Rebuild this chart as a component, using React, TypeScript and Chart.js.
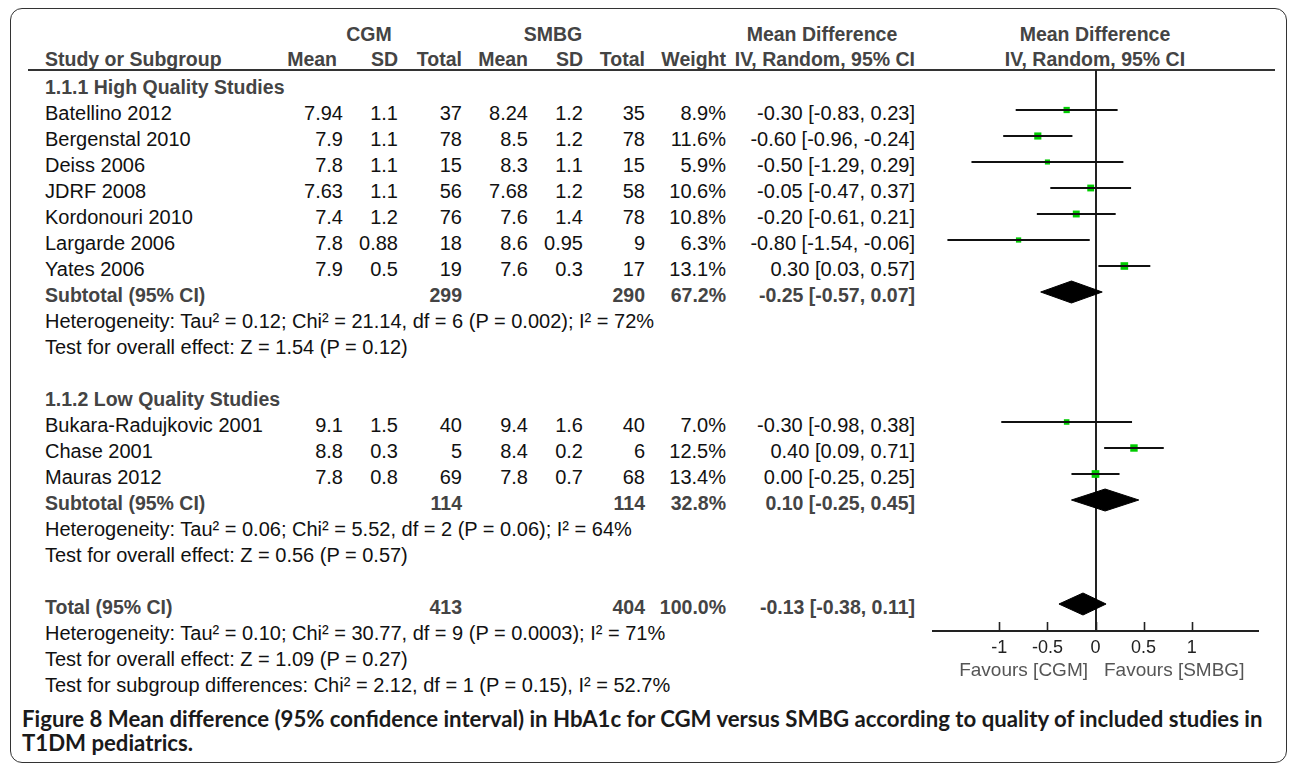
import React, { useEffect, useRef } from "react";
import { Chart, registerables } from "chart.js";

Chart.register(...registerables);

// ---------------- DATA ----------------
const studies = [
  "Batellino 2012",
  "Bergenstal 2010",
  "Deiss 2006",
  "JDRF 2008",
  "Kordonouri 2010",
  "Largarde 2006",
  "Yates 2006",
  "Bukara-Radujkovic 2001",
  "Chase 2001",
  "Mauras 2012",
];
const studyGroup = [0, 0, 0, 0, 0, 0, 0, 1, 1, 1];
const cgmMean = [7.94, 7.9, 7.8, 7.63, 7.4, 7.8, 7.9, 9.1, 8.8, 7.8];
const cgmSD = [1.1, 1.1, 1.1, 1.1, 1.2, 0.88, 0.5, 1.5, 0.3, 0.8];
const cgmN = [37, 78, 15, 56, 76, 18, 19, 40, 5, 69];
const smbgMean = [8.24, 8.5, 8.3, 7.68, 7.6, 8.6, 7.6, 9.4, 8.4, 7.8];
const smbgSD = [1.2, 1.2, 1.1, 1.2, 1.4, 0.95, 0.3, 1.6, 0.2, 0.7];
const smbgN = [35, 78, 15, 58, 78, 9, 17, 40, 6, 68];
const weight = [8.9, 11.6, 5.9, 10.6, 10.8, 6.3, 13.1, 7.0, 12.5, 13.4];
const meanDiff = [-0.3, -0.6, -0.5, -0.05, -0.2, -0.8, 0.3, -0.3, 0.4, 0.0];
const ciLow = [-0.83, -0.96, -1.29, -0.47, -0.61, -1.54, 0.03, -0.98, 0.09, -0.25];
const ciHigh = [0.23, -0.24, 0.29, 0.37, 0.21, -0.06, 0.57, 0.38, 0.71, 0.25];

const groupNames = ["1.1.1 High Quality Studies", "1.1.2 Low Quality Studies"];
const groupCgmN = [299, 114];
const groupSmbgN = [290, 114];
const groupWeight = [67.2, 32.8];
const groupMd = [-0.25, 0.1];
const groupLow = [-0.57, -0.25];
const groupHigh = [0.07, 0.45];
const groupHet = [
  "Heterogeneity: Tau² = 0.12; Chi² = 21.14, df = 6 (P = 0.002); I² = 72%",
  "Heterogeneity: Tau² = 0.06; Chi² = 5.52, df = 2 (P = 0.06); I² = 64%",
];
const groupTest = [
  "Test for overall effect: Z = 1.54 (P = 0.12)",
  "Test for overall effect: Z = 0.56 (P = 0.57)",
];

const totalCgmN = 413;
const totalSmbgN = 404;
const totalWeight = 100.0;
const totalMd = -0.13;
const totalLow = -0.38;
const totalHigh = 0.11;
const totalNotes = [
  "Heterogeneity: Tau² = 0.10; Chi² = 30.77, df = 9 (P = 0.0003); I² = 71%",
  "Test for overall effect: Z = 1.09 (P = 0.27)",
  "Test for subgroup differences: Chi² = 2.12, df = 1 (P = 0.15), I² = 52.7%",
];

const xTicks = [-1, -0.5, 0, 0.5, 1];
const xTickLabels = ["-1", "-0.5", "0", "0.5", "1"];
const favourLabels = ["Favours [CGM]", "Favours [SMBG]"];

const captionLine1 =
  "Figure 8 Mean difference (95% confidence interval) in HbA1c for CGM versus SMBG according to quality of included studies in";
const captionLine2 = "T1DM pediatrics.";

// ---------------- LAYOUT ----------------
const W = 1292;
const H = 767;
const ROW0 = 84;
const ROW_H = 26;
const TEXT_DY = 3;
const HEADER_LINE_Y = 70;
const AXIS_Y = 631;
const PLOT_LEFT = 933;
const PLOT_RIGHT = 1258;
const X_MIN = -1.69;
const X_MAX = 1.69;
const CANVAS_L = 920;
const CANVAS_T = 60;
const CANVAS_W = 360;
const CANVAS_H = 640;
const AXIS_H = 30;
const CAPTION_WIDTH = 1241;

const FONT = '"Liberation Sans", Arial, Helvetica, sans-serif';

type Row =
  | { kind: "group"; g: number }
  | { kind: "study"; s: number }
  | { kind: "subtotal"; g: number }
  | { kind: "note"; text: string }
  | { kind: "blank" }
  | { kind: "total" };

function buildRows(): Row[] {
  const rows: Row[] = [];
  groupNames.forEach((_, g) => {
    rows.push({ kind: "group", g });
    studies.forEach((_, s) => {
      if (studyGroup[s] === g) rows.push({ kind: "study", s });
    });
    rows.push({ kind: "subtotal", g });
    rows.push({ kind: "note", text: groupHet[g] });
    rows.push({ kind: "note", text: groupTest[g] });
    rows.push({ kind: "blank" });
  });
  rows.push({ kind: "total" });
  totalNotes.forEach((t) => rows.push({ kind: "note", text: t }));
  return rows;
}
const rows = buildRows();

const fmt2 = (v: number) => v.toFixed(2);
const ciText = (m: number, l: number, h: number) => `${fmt2(m)} [${fmt2(l)}, ${fmt2(h)}]`;
const pct = (w: number) => `${w.toFixed(1)}%`;

type TProps = {
  x: number;
  y: number;
  text: string;
  align?: "left" | "right" | "center";
  bold?: boolean;
  color?: string;
  size?: number;
};
function T({ x, y, text, align = "left", bold = false, color, size }: TProps) {
  const style: React.CSSProperties = {
    position: "absolute",
    top: y,
    whiteSpace: "pre",
    fontFamily: FONT,
    fontSize: size ?? (bold ? 19.5 : 20),
    fontWeight: bold ? 700 : 400,
    color: color ?? (bold ? "#444" : "#111"),
    lineHeight: "normal",
    transform: "translateY(-50%)",
  };
  if (align === "left") style.left = x;
  else if (align === "right") style.right = W - x;
  else {
    style.left = x;
    style.transform = "translate(-50%, -50%)";
  }
  return <div style={style}>{text}</div>;
}

// column right edges
const COL = {
  name: 45,
  cgmMean: 343,
  cgmSD: 398,
  cgmN: 462,
  smbgMean: 528,
  smbgSD: 583,
  smbgN: 645,
  weight: 726,
  ci: 915,
};

export default function App() {
  const canvasRef = useRef<HTMLCanvasElement>(null);
  const cap1 = useRef<HTMLDivElement>(null);
  const cap2 = useRef<HTMLDivElement>(null);

  useEffect(() => {
    const el = cap1.current;
    if (el && cap2.current) {
      el.style.fontSize = "20px";
      const w = el.getBoundingClientRect().width;
      const fs = (20 * CAPTION_WIDTH) / w;
      el.style.fontSize = fs + "px";
      cap2.current.style.fontSize = fs + "px";
    }
  }, []);

  useEffect(() => {
    const canvas = canvasRef.current;
    if (!canvas) return;

    const rowIndexOfStudy = (s: number) => rows.findIndex((r) => r.kind === "study" && r.s === s);
    const rowIndexOfSub = (g: number) => rows.findIndex((r) => r.kind === "subtotal" && r.g === g);
    const rowIndexOfTotal = rows.findIndex((r) => r.kind === "total");

    const DIAMOND_HALF = 11 / ROW_H;

    const datasets: any[] = [];
    // CI whiskers
    studies.forEach((_, s) => {
      const r = rowIndexOfStudy(s);
      datasets.push({
        type: "line",
        data: [
          { x: ciLow[s], y: r },
          { x: ciHigh[s], y: r },
        ],
        borderColor: "#111",
        borderWidth: 1.8,
        pointRadius: 0,
        fill: false,
      });
    });
    // squares (size grows with weight)
    datasets.push({
      type: "scatter",
      data: studies.map((_, s) => ({ x: meanDiff[s], y: rowIndexOfStudy(s) })),
      pointStyle: "rect",
      pointRadius: weight.map((w) => (2.1 * Math.sqrt(w)) / Math.SQRT2),
      backgroundColor: "#00cc00",
      borderColor: "#00cc00",
      borderWidth: 0,
    });
    // diamonds
    const diamond = (m: number, l: number, h: number, r: number) => ({
      type: "line",
      data: [
        { x: l, y: r },
        { x: m, y: r - DIAMOND_HALF },
        { x: h, y: r },
        { x: m, y: r + DIAMOND_HALF },
        { x: l, y: r },
      ],
      borderColor: "#000",
      backgroundColor: "#000",
      borderWidth: 1,
      pointRadius: 0,
      tension: 0,
      fill: "shape",
    });
    groupNames.forEach((_, g) => {
      datasets.push(diamond(groupMd[g], groupLow[g], groupHigh[g], rowIndexOfSub(g)));
    });
    datasets.push(diamond(totalMd, totalLow, totalHigh, rowIndexOfTotal));

    const yMin = (HEADER_LINE_Y - ROW0) / ROW_H;
    const yMax = (AXIS_Y - ROW0) / ROW_H;

    const tickMarks = {
      id: "tickMarks",
      afterDraw(chart: any) {
        const s = chart.scales.x;
        const ctx = chart.ctx;
        ctx.save();
        ctx.strokeStyle = "#222";
        ctx.lineWidth = 1.6;
        xTicks.forEach((v) => {
          const px = Math.round(s.getPixelForValue(v)) + 0.5;
          ctx.beginPath();
          ctx.moveTo(px, s.top);
          ctx.lineTo(px, s.top - 9);
          ctx.stroke();
        });
        ctx.restore();
      },
    };

    const chart = new Chart(canvas, {
      type: "scatter",
      data: { datasets },
      options: {
        animation: false,
        responsive: false,
        maintainAspectRatio: false,
        layout: {
          padding: {
            left: PLOT_LEFT - CANVAS_L,
            right: CANVAS_L + CANVAS_W - PLOT_RIGHT,
            top: HEADER_LINE_Y - CANVAS_T,
            bottom: CANVAS_T + CANVAS_H - AXIS_Y - AXIS_H,
          },
        },
        plugins: {
          legend: { display: false },
          tooltip: { enabled: false },
        },
        scales: {
          x: {
            type: "linear",
            position: "bottom",
            min: X_MIN,
            max: X_MAX,
            afterBuildTicks: (s: any) => {
              s.ticks = xTicks.map((v) => ({ value: v }));
            },
            afterFit: (s: any) => {
              s.height = AXIS_H;
            },
            ticks: {
              autoSkip: false,
              maxRotation: 0,
              padding: 6,
              color: "#222",
              font: { family: FONT, size: 18 },
              callback: (_v: any, i: number) => xTickLabels[i],
            },
            grid: {
              drawTicks: false,
              lineWidth: 2,
              color: (ctx: any) => (ctx.tick && ctx.tick.value === 0 ? "#222" : "rgba(0,0,0,0)"),
            },
            border: { display: true, color: "#222", width: 2 },
          },
          y: {
            type: "linear",
            display: false,
            reverse: true,
            min: yMin,
            max: yMax,
          },
        },
      } as any,
      plugins: [tickMarks],
    });
    return () => chart.destroy();
  }, []);

  const items: React.ReactNode[] = [];
  rows.forEach((r, i) => {
    const y = ROW0 + i * ROW_H + TEXT_DY;
    if (r.kind === "group") {
      items.push(<T key={`g${i}`} x={COL.name} y={y} text={groupNames[r.g]} bold />);
    } else if (r.kind === "study") {
      const s = r.s;
      items.push(<T key={`n${i}`} x={COL.name} y={y} text={studies[s]} />);
      items.push(<T key={`a${i}`} x={COL.cgmMean} y={y} text={String(cgmMean[s])} align="right" />);
      items.push(<T key={`b${i}`} x={COL.cgmSD} y={y} text={String(cgmSD[s])} align="right" />);
      items.push(<T key={`c${i}`} x={COL.cgmN} y={y} text={String(cgmN[s])} align="right" />);
      items.push(<T key={`d${i}`} x={COL.smbgMean} y={y} text={String(smbgMean[s])} align="right" />);
      items.push(<T key={`e${i}`} x={COL.smbgSD} y={y} text={String(smbgSD[s])} align="right" />);
      items.push(<T key={`f${i}`} x={COL.smbgN} y={y} text={String(smbgN[s])} align="right" />);
      items.push(<T key={`w${i}`} x={COL.weight} y={y} text={pct(weight[s])} align="right" />);
      items.push(
        <T key={`m${i}`} x={COL.ci} y={y} text={ciText(meanDiff[s], ciLow[s], ciHigh[s])} align="right" />
      );
    } else if (r.kind === "subtotal" || r.kind === "total") {
      const isT = r.kind === "total";
      const g = isT ? 0 : (r as any).g;
      items.push(<T key={`n${i}`} x={COL.name} y={y} text={isT ? "Total (95% CI)" : "Subtotal (95% CI)"} bold />);
      items.push(<T key={`c${i}`} x={COL.cgmN} y={y} text={String(isT ? totalCgmN : groupCgmN[g])} align="right" bold />);
      items.push(<T key={`f${i}`} x={COL.smbgN} y={y} text={String(isT ? totalSmbgN : groupSmbgN[g])} align="right" bold />);
      items.push(<T key={`w${i}`} x={COL.weight} y={y} text={pct(isT ? totalWeight : groupWeight[g])} align="right" bold />);
      items.push(
        <T
          key={`m${i}`}
          x={COL.ci}
          y={y}
          text={isT ? ciText(totalMd, totalLow, totalHigh) : ciText(groupMd[g], groupLow[g], groupHigh[g])}
          align="right"
          bold
        />
      );
    } else if (r.kind === "note") {
      items.push(<T key={`t${i}`} x={COL.name} y={y} text={r.text} />);
    }
  });

  return (
    <div style={{ position: "relative", width: W, height: H, background: "#fff", overflow: "hidden" }}>
      <style>{"body{margin:0;background:#fff}"}</style>
      <div
        style={{
          position: "absolute",
          left: 10,
          top: 8,
          width: 1277,
          height: 755,
          border: "1.5px solid #333",
          borderRadius: 12,
          boxSizing: "border-box",
        }}
      />
      {/* column headers */}
      <T x={369} y={33.5} text="CGM" align="center" bold />
      <T x={553} y={33.5} text="SMBG" align="center" bold />
      <T x={822} y={33.5} text="Mean Difference" align="center" bold />
      <T x={1095} y={33.5} text="Mean Difference" align="center" bold />
      <T x={COL.name} y={58.5} text="Study or Subgroup" bold />
      <T x={337} y={58.5} text="Mean" align="right" bold />
      <T x={COL.cgmSD} y={58.5} text="SD" align="right" bold />
      <T x={COL.cgmN} y={58.5} text="Total" align="right" bold />
      <T x={COL.smbgMean} y={58.5} text="Mean" align="right" bold />
      <T x={COL.smbgSD} y={58.5} text="SD" align="right" bold />
      <T x={COL.smbgN} y={58.5} text="Total" align="right" bold />
      <T x={COL.weight} y={58.5} text="Weight" align="right" bold />
      <T x={COL.ci} y={58.5} text="IV, Random, 95% CI" align="right" bold />
      <T x={1095} y={58.5} text="IV, Random, 95% CI" align="center" bold />
      <div
        style={{ position: "absolute", left: 28, top: HEADER_LINE_Y - 1, width: 1247, height: 2, background: "#333" }}
      />
      {items}
      <canvas
        ref={canvasRef}
        width={CANVAS_W}
        height={CANVAS_H}
        style={{ position: "absolute", left: CANVAS_L, top: CANVAS_T, width: CANVAS_W, height: CANVAS_H }}
      />
      <T x={1088} y={670} text={favourLabels[0]} align="right" color="#555" size={19} />
      <T x={1104} y={670} text={favourLabels[1]} color="#555" size={19} />
      <div
        ref={cap1}
        style={{
          position: "absolute",
          left: 22,
          top: 718,
          transform: "translateY(-50%)",
          whiteSpace: "pre",
          fontFamily: "Lato, 'Open Sans', sans-serif",
          fontWeight: 700,
          fontSize: 20,
          color: "#1a1a1a",
          lineHeight: "normal",
        }}
      >
        {captionLine1}
      </div>
      <div
        ref={cap2}
        style={{
          position: "absolute",
          left: 22,
          top: 742,
          transform: "translateY(-50%)",
          whiteSpace: "pre",
          fontFamily: "Lato, 'Open Sans', sans-serif",
          fontWeight: 700,
          fontSize: 20,
          color: "#1a1a1a",
          lineHeight: "normal",
        }}
      >
        {captionLine2}
      </div>
    </div>
  );
}
